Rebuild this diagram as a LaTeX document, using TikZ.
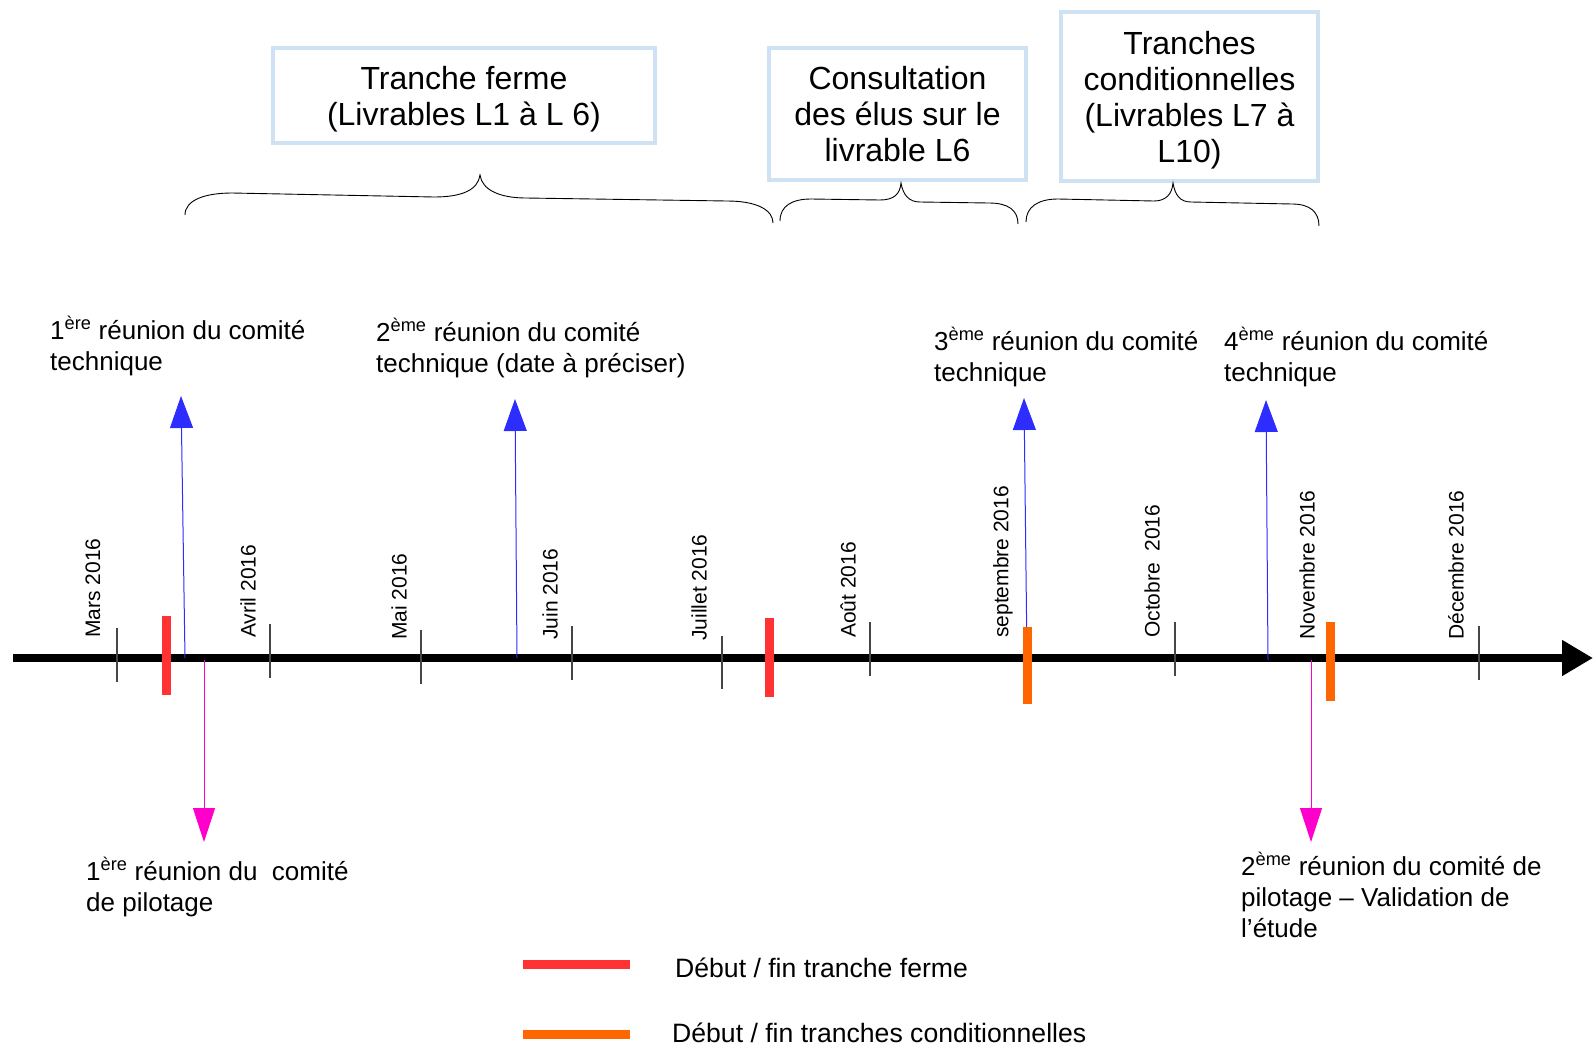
\documentclass[tikz,border=0pt]{standalone}
\usepackage{fontspec}
\setmainfont{Liberation Sans}
\usetikzlibrary{arrows.meta}
\definecolor{boxblue}{RGB}{207,226,243}
\definecolor{tickgray}{RGB}{70,70,70}
\definecolor{barred}{RGB}{255,51,51}
\definecolor{barorange}{RGB}{255,102,0}
\definecolor{arrblue}{RGB}{45,45,255}
\definecolor{arrmag}{RGB}{255,0,204}
\newcommand\boxfnt{\fontsize{32}{36}\selectfont}
\newcommand\lblfnt{\fontsize{26}{31}\selectfont}
\newcommand\legfnt{\fontsize{26.6}{31}\selectfont}
\newcommand\monfnt{\fontsize{21}{25}\selectfont}
\tikzset{
  topbox/.style={draw=boxblue, line width=4.5pt, inner sep=0pt},
  boxtxt/.style={align=center, font=\boxfnt, inner sep=0pt},
  brace/.style={draw=black, line width=0.9pt},
  monthtick/.style={draw=tickgray, line width=1.3pt},
  monthlbl/.style={rotate=90, anchor=west, inner sep=0pt, font=\monfnt},
  lbl/.style={anchor=base west, align=left, inner sep=0pt, font=\lblfnt},
  leglbl/.style={anchor=base west, inner sep=0pt, font=\legfnt},
  bluearr/.style={draw=arrblue, line width=1pt, -{Triangle[length=32pt,width=23pt]}},
  magarr/.style={draw=arrmag, line width=1pt, -{Triangle[length=34pt,width=22pt]}},
  redbar/.style={fill=barred, draw=none},
  orangebar/.style={fill=barorange, draw=none},
}
\begin{document}
\begin{tikzpicture}[x=1pt,y=-1pt]
\useasboundingbox (0,0) rectangle (1593,1047);

% top boxes
\node[topbox, minimum width=382pt, minimum height=95pt] (b1) at (464,95.5) {};
\node[boxtxt] (b1t) at ([yshift=-4pt]b1.center) {Tranche ferme\\(Livrables L1 à L 6)};
\node[topbox, minimum width=257pt, minimum height=132pt] (b2) at (897.5,114) {};
\node[boxtxt] (b2t) at (b2.center) {Consultation\\des élus sur le\\livrable L6};
\node[topbox, minimum width=257pt, minimum height=169pt] (b3) at (1189.5,96.5) {};
\node[boxtxt] (b3t) at ([yshift=-4pt]b3.center) {Tranches\\conditionnelles\\(Livrables L7 à\\L10)};

% braces
\draw[brace] (185,215) .. controls (185,200) and (205,193) .. (232,193) -- (434,197)
  .. controls (462,197) and (478,190) .. (480,175)
  .. controls (482,190) and (500,198) .. (526,198) -- (727,201)
  .. controls (757,201) and (773,210) .. (773,223);
\draw[brace] (780,221) .. controls (780,206) and (792,199) .. (811,199) -- (880,200)
  .. controls (894,200) and (900,194) .. (901,183)
  .. controls (903,195) and (909,202) .. (920,202) -- (989,203)
  .. controls (1008,203) and (1018,210) .. (1018,224);
\draw[brace] (1026,222) .. controls (1026,207) and (1038,199) .. (1058,199) -- (1154,201)
  .. controls (1166,201) and (1172,194) .. (1173,183)
  .. controls (1175,195) and (1180,202) .. (1191,202) -- (1292,204)
  .. controls (1310,204) and (1319,212) .. (1319,226);

% axis
\coordinate (ax0) at (13,658);
\coordinate (ax1) at (1593,658);
\draw[line width=8pt, -{Triangle[length=31pt,width=34pt]}] (ax0) -- (ax1);

% ticks
\draw[monthtick] (117,628) -- (117,682);
\draw[monthtick] (270,624) -- (270,678);
\draw[monthtick] (421,630) -- (421,684);
\draw[monthtick] (572,626) -- (572,680);
\draw[monthtick] (722,636) -- (722,689);
\draw[monthtick] (870,622) -- (870,676);
\draw[monthtick] (1175,622) -- (1175,676);
\draw[monthtick] (1479,626) -- (1479,680);

% month labels
\node[monthlbl] (m3) at (93,638) {Mars 2016};
\node[monthlbl] (m4) at (248,638) {Avril 2016};
\node[monthlbl] (m5) at (399,640) {Mai 2016};
\node[monthlbl] (m6) at (550,640) {Juin 2016};
\node[monthlbl] (m7) at (699,641) {Juillet 2016};
\node[monthlbl] (m8) at (848,638) {Août 2016};
\node[monthlbl] (m9) at (1003,638) {septembre 2016};
\node[monthlbl] (m10) at (1152,638) {Octobre\ \ 2016};
\node[monthlbl] (m11) at (1307,640) {Novembre 2016};
\node[monthlbl] (m12) at (1456,640) {Décembre 2016};

% blue arrows (comité technique)
\coordinate (t1a) at (185,658); \coordinate (t1b) at (181,396);
\coordinate (t2a) at (517,658); \coordinate (t2b) at (515,399);
\coordinate (t3a) at (1027,658); \coordinate (t3b) at (1024,398);
\coordinate (t4a) at (1268,660); \coordinate (t4b) at (1266,400);
\draw[bluearr] (t1a) -- (t1b);
\draw[bluearr] (t2a) -- (t2b);
\draw[bluearr] (t3a) -- (t3b);
\draw[bluearr] (t4a) -- (t4b);

% magenta arrows (comité de pilotage)
\coordinate (p1a) at (204,660); \coordinate (p1b) at (204,842);
\coordinate (p2a) at (1311,660); \coordinate (p2b) at (1311,842);
\draw[magarr] (p1a) -- (p1b);
\draw[magarr] (p2a) -- (p2b);

% bars
\fill[redbar] (162,616) rectangle (171,695);
\fill[redbar] (765,618) rectangle (774,697);
\fill[orangebar] (1023,627) rectangle (1032,704);
\fill[orangebar] (1326,622) rectangle (1335,701);

% labels (anchor = baseline of last line)
\node[lbl] (l1) at (50,370) {1\textsuperscript{ère} réunion du comité\\technique};
\node[lbl] (l2) at (376,372) {2\textsuperscript{ème} réunion du comité\\technique (date à préciser)};
\node[lbl] (l3) at (934,381) {3\textsuperscript{ème} réunion du comité\\technique};
\node[lbl] (l4) at (1224,381) {4\textsuperscript{ème} réunion du comité\\technique};
\node[lbl] (l5) at (86,911) {1\textsuperscript{ère} réunion du\ \ comité\\de pilotage};
\node[lbl] (l6) at (1241,937) {2\textsuperscript{ème} réunion du comité de\\pilotage – Validation de\\l’étude};

% legend
\fill[redbar] (523,960) rectangle (630,969);
\fill[orangebar] (523,1030) rectangle (630,1039);
\node[leglbl] (lg1) at (675,977) {Début / fin tranche ferme};
\node[leglbl] (lg2) at (672,1042) {Début / fin tranches conditionnelles};
\end{tikzpicture}
\end{document}
